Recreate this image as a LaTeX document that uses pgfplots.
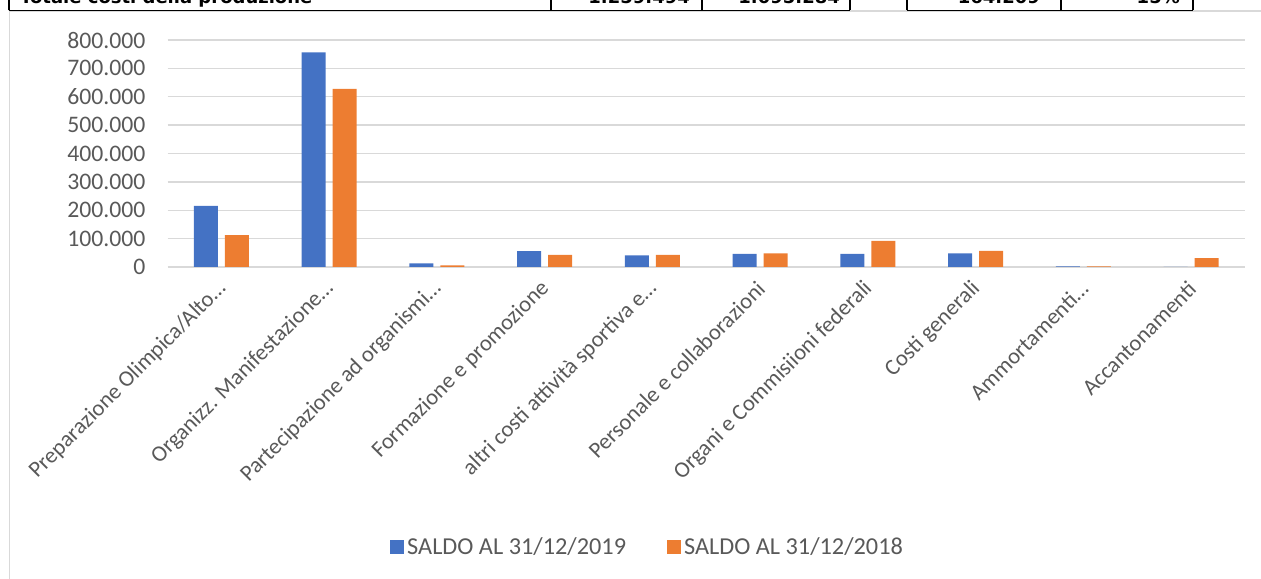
\documentclass[border=0pt]{standalone}
\usepackage{fontspec}
\setmainfont{Carlito}
\newfontfamily\tabfont{DejaVu Sans}
\usepackage{pgfplots}
\pgfplotsset{compat=1.18}
\definecolor{cblue}{HTML}{4472C4}
\definecolor{corange}{HTML}{ED7D31}
\definecolor{gridgray}{HTML}{D9D9D9}
\definecolor{textgray}{HTML}{595959}
\begin{document}
\begin{tikzpicture}
\useasboundingbox (0,0) rectangle (1261bp,579bp);
% chart frame
\draw[gridgray, line width=1.5bp] (9.5bp,0) -- (9.5bp,568bp) -- (1270bp,568bp);
% cut-off table row
\begin{scope}[line width=1.5bp]
\draw (8.5bp,568.5bp) -- (850bp,568.5bp);
\draw (907bp,568.5bp) -- (1193bp,568.5bp);
\foreach \xx in {9,551,702,850,907,1061,1193} {\draw (\xx bp,568.5bp) -- (\xx bp,585bp);}
\end{scope}
\begin{scope}[every node/.style={inner sep=0pt, font=\tabfont\bfseries\fontsize{18bp}{20bp}\selectfont}]
\node[anchor=base west] at (20bp,575bp) {Totale costi della produzione};
\node[anchor=base east] at (690bp,575bp) {1.259.494};
\node[anchor=base east] at (840bp,575bp) {1.095.284};
\node[anchor=base east] at (1040bp,575bp) {164.209};
\node[anchor=base east] at (1180bp,575bp) {15\%};
\end{scope}
\begin{axis}[
  at={(167.6bp,312bp)}, anchor=south west,
  scale only axis, width=1077.4bp, height=227bp,
  ybar=7bp, bar width=24bp,
  xmin=-0.5, xmax=9.5, ymin=0, ymax=800000,
  xtick={0,...,9},
  xticklabels={Preparazione Olimpica/Alto…,Organizz. Manifestazione…,Partecipazione ad organismi…,Formazione e promozione,altri costi attività sportiva e…,Personale e collaborazioni,Organi e Commisiioni federali,Costi generali,Ammortamenti…,Accantonamenti},
  ytick={0,100000,...,800000},
  scaled y ticks=false,
  ymajorgrids, grid style={draw=gridgray, line width=1.3bp},
  axis line style={draw=none}, tick style={draw=none},
  ticklabel style={font=\fontsize{23.7bp}{28bp}\selectfont, text=textgray},
  yticklabel style={/pgf/number format/fixed, /pgf/number format/1000 sep={.}, /pgf/number format/assume math mode=true},
  yticklabel style={anchor=east, inner sep=0pt, xshift=-22bp},
  xticklabel style={xshift=1bp, yshift=-14bp, rotate=45, anchor=east, inner sep=0pt, font=\fontsize{22.6bp}{28bp}\selectfont},
  legend style={at={(axis description cs:0.446,-1.233)}, anchor=center, draw=none, fill=none,
     legend columns=2, font=\fontsize{24.3bp}{28bp}\selectfont, text=textgray,
     /tikz/every even column/.append style={column sep=38bp},
     nodes={inner sep=3bp}},
  legend image code/.code={\fill[#1] (0bp,-7bp) rectangle (14bp,7bp);},
]
\addplot[fill=cblue, draw=none] coordinates {(0,215000) (1,756000) (2,13000) (3,56000) (4,41000) (5,46000) (6,46000) (7,48000) (8,2500) (9,0)};
\addplot[fill=corange, draw=none] coordinates {(0,112000) (1,628000) (2,6000) (3,43000) (4,43000) (5,48000) (6,92000) (7,56500) (8,2500) (9,31000)};
\legend{SALDO AL 31/12/2019, SALDO AL 31/12/2018}
\end{axis}
\end{tikzpicture}
\end{document}
